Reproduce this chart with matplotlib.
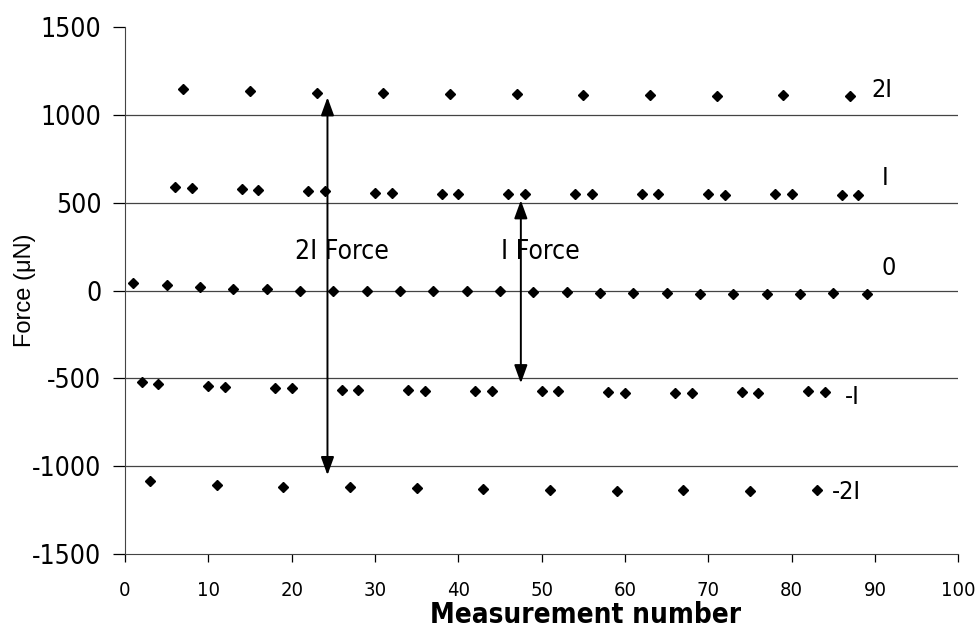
import matplotlib
matplotlib.use("Agg")
import matplotlib.pyplot as plt

plt.rcParams['font.family'] = ['DejaVu Sans']
plt.rcParams['font.stretch'] = 'condensed'
plt.rcParams['axes.unicode_minus'] = False

# measurement numbers and forces (uN) for each level
x_2i = [7, 15, 23, 31, 39, 47, 55, 63, 71, 79, 87]
f_2i = [1148, 1135, 1123, 1125, 1119, 1117, 1114, 1112, 1110, 1113, 1106]

x_i = [6, 8, 14, 16, 22, 24, 30, 32, 38, 40, 46, 48,
       54, 56, 62, 64, 70, 72, 78, 80, 86, 88]
f_i = [592, 586, 578, 573, 567, 566, 557, 558, 552, 551, 552, 550,
       551, 551, 549, 548, 547, 546, 548, 547, 542, 545]

x_0 = [1, 5, 9, 13, 17, 21, 25, 29, 33, 37, 41, 45,
       49, 53, 57, 61, 65, 69, 73, 77, 81, 85, 89]
f_0 = [42, 32, 18, 8, 7, 0, 0, -1, -2, -3, -4, -5,
       -8, -10, -11, -12, -13, -18, -19, -17, -18, -13, -18]

x_mi = [2, 4, 10, 12, 18, 20, 26, 28, 34, 36, 42, 44,
        50, 52, 58, 60, 66, 68, 74, 76, 82, 84]
f_mi = [-520, -530, -541, -551, -556, -557, -564, -565, -566, -570, -570, -572,
        -573, -574, -577, -580, -582, -584, -575, -581, -574, -578]

x_m2i = [3, 11, 19, 27, 35, 43, 51, 59, 67, 75, 83]
f_m2i = [-1083, -1104, -1115, -1117, -1126, -1128, -1136, -1138, -1136, -1142, -1135]

level_names = ['2I', 'I', '0', '-I', '-2I']
level_pos = [(89.5, 1139), (90.8, 639), (90.8, 128), (86.4, -608), (84.8, -1145)]

fig = plt.figure(figsize=(9.76, 6.29), dpi=100)
ax = fig.add_axes([0.128, 0.119, 0.854, 0.838])

for xs, ys in [(x_2i, f_2i), (x_i, f_i), (x_0, f_0), (x_mi, f_mi), (x_m2i, f_m2i)]:
    ax.plot(xs, ys, linestyle='none', marker='D', markersize=5.6, color='black')

# horizontal gridlines
for yv in [-1000, -500, 0, 500, 1000]:
    ax.axhline(yv, color='#444444', linewidth=0.9, zorder=0)

ax.set_xlim(0, 100)
ax.set_ylim(-1500, 1500)
ax.set_xticks(range(0, 101, 10))
ax.set_yticks(range(-1500, 1501, 500))
ax.tick_params(axis='y', labelsize=19, length=9, width=0.9, pad=8)
ax.tick_params(axis='x', labelsize=14.5, length=6, width=0.9, pad=13)
ax.spines['top'].set_visible(False)
ax.spines['right'].set_visible(False)
ax.spines['left'].set_color('#444444')
ax.spines['bottom'].set_color('#444444')

ax.set_xlabel('Measurement number', fontsize=20, fontweight='bold')
ax.xaxis.set_label_coords(0.553, -0.089)
ax.set_ylabel('Force (μN)', fontsize=17, family=['Liberation Sans', 'DejaVu Sans'],
              fontstretch='normal')
ax.yaxis.set_label_coords(-0.107, 0.501)

# force arrows
arrow_style = '<|-|>,head_length=0.55,head_width=0.2'
ax.annotate('', xy=(24.3, 1100), xytext=(24.3, -1050),
            arrowprops=dict(arrowstyle=arrow_style, color='black', lw=1.4,
                            mutation_scale=20, shrinkA=0, shrinkB=0))
ax.annotate('', xy=(47.5, 514), xytext=(47.5, -527),
            arrowprops=dict(arrowstyle=arrow_style, color='black', lw=1.4,
                            mutation_scale=20, shrinkA=0, shrinkB=0))
ax.text(26, 219, '2I Force', fontsize=19, ha='center', va='center')
ax.text(49.8, 219, 'I Force', fontsize=19, ha='center', va='center')

for name, (tx, ty) in zip(level_names, level_pos):
    ax.text(tx, ty, name, fontsize=18, ha='left', va='center')

fig.savefig('out.png', dpi=100)
